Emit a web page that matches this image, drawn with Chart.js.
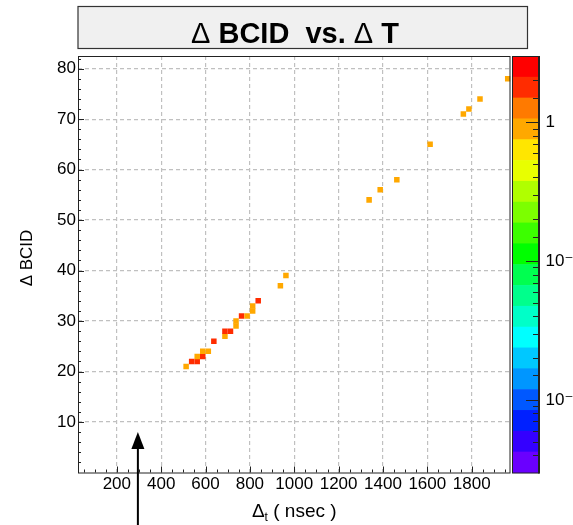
<!DOCTYPE html>
<html>
<head>
<meta charset="utf-8">
<script src="https://cdn.jsdelivr.net/npm/chart.js"></script>
<style>
  html, body { margin: 0; padding: 0; background: #fff; }
</style>
</head>
<body>
<canvas id="myChart" width="573" height="525"></canvas>
<script>
// filled cells of the 2D histogram (cell centres) and their entries
var deltaT    = [512.5, 537.5, 562.5, 562.5, 587.5, 587.5, 612.5, 637.5, 687.5, 687.5, 712.5, 737.5, 737.5, 762.5,
                 787.5, 812.5, 812.5, 837.5, 937.5, 962.5, 1337.5, 1387.5, 1462.5, 1612.5, 1762.5, 1787.5, 1837.5, 1962.5];
var deltaBCID = [21, 22, 22, 23, 23, 24, 24, 26, 27, 28, 28, 29, 30, 31,
                 31, 32, 33, 34, 37, 39, 54, 56, 58, 65, 71, 72, 74, 78];
var entries   = [1, 2, 2, 1, 2, 1, 1, 2, 1, 2, 2, 1, 1, 2,
                 1, 1, 1, 2, 1, 1, 1, 1, 1, 1, 1, 1, 1, 1];

// axis ticks
var xTickValues = [200, 400, 600, 800, 1000, 1200, 1400, 1600, 1800];
var xTickLabels = ['200', '400', '600', '800', '1000', '1200', '1400', '1600', '1800'];
var yTickValues = [10, 20, 30, 40, 50, 60, 70, 80];
var yTickLabels = ['10', '20', '30', '40', '50', '60', '70', '80'];
var zMajorValues = [0.01, 0.1, 1];
var zMajorLabels = ['10\u207B\u00B2', '10\u207B\u00B9', '1'];

// arrow marker under the x axis (in nsec)
var arrowAt = 295;

// colour palette of the z axis, top (max) to bottom (min)
var palette = ['#ff0000', '#ff2c00', '#ff7a00', '#ffa800', '#ffe600', '#e8ff00', '#b0ff00', '#7cff00',
               '#3cff00', '#00ff00', '#00ff50', '#00ff8c', '#00ffc8', '#00ffff', '#00c8ff', '#0096ff',
               '#0058ff', '#0020ff', '#3400ff', '#6a00ff'];

var FONT = "'Liberation Sans', Arial, Helvetica, 'DejaVu Sans', sans-serif";

function cellColour(v, z) {
  var pos = (z.getPixelForValue(v) - z.top) / (z.bottom - z.top);
  var i = Math.max(0, Math.min(palette.length - 1, Math.floor(pos * palette.length)));
  return palette[i];
}

var rootDecor = {
  id: 'rootDecor',
  afterDraw: function(chart) {
    var ctx = chart.ctx, a = chart.chartArea;
    var xs = chart.scales.x, ys = chart.scales.y, zs = chart.scales.z;
    ctx.save();

    // frame
    ctx.strokeStyle = '#222';
    ctx.lineWidth = 1;
    ctx.strokeRect(a.left + 0.5, a.top + 0.5, a.right - a.left - 1, a.bottom - a.top);

    // small ticks
    ctx.beginPath();
    for (var v = 50; v < xs.max; v += 50) {
      var px = Math.round(xs.getPixelForValue(v)) + 0.5;
      var len = v % 200 === 0 ? 6 : 3;
      ctx.moveTo(px, a.bottom); ctx.lineTo(px, a.bottom - len);
    }
    for (var w = 2; w < ys.max; w += 2) {
      var py = Math.round(ys.getPixelForValue(w)) + 0.5;
      var l2 = w % 10 === 0 ? 6 : 3;
      ctx.moveTo(a.left, py); ctx.lineTo(a.left + l2, py);
    }
    ctx.stroke();

    // colour bar
    var barL = a.right + 2, barR = 539, h = (zs.bottom - zs.top) / palette.length;
    for (var i = 0; i < palette.length; i++) {
      ctx.fillStyle = palette[i];
      ctx.fillRect(barL, zs.top + i * h, barR - barL, h + 0.6);
    }
    ctx.strokeStyle = '#222';
    ctx.beginPath();
    zs.ticks.forEach(function(t) {
      var y = Math.round(zs.getPixelForValue(t.value)) + 0.5;
      if (y < zs.top + 1 || y > zs.bottom - 1) return;
      var major = zMajorValues.some(function(m) { return Math.abs(m - t.value) < 1e-9; });
      ctx.moveTo(barR, y); ctx.lineTo(barR - (major ? 13 : 6), y);
    });
    ctx.stroke();
    ctx.lineWidth = 1;
    ctx.strokeRect(barL, zs.top + 0.5, barR - barL, zs.bottom - zs.top);
    ctx.lineWidth = 2;
    ctx.beginPath();
    ctx.moveTo(barR, zs.top); ctx.lineTo(barR, zs.bottom + 1);
    ctx.stroke();

    // title box
    ctx.fillStyle = '#f0f0f0';
    ctx.fillRect(78, 6.5, 449.5, 42);
    ctx.lineWidth = 1.2;
    ctx.strokeStyle = '#333';
    ctx.strokeRect(78, 6.5, 449.5, 42);
    var parts = [['\u0394 ', 'normal 29px '], ['BCID  vs. ', 'bold 29px '], ['\u0394 ', 'normal 29px '], ['T', 'bold 29px ']];
    var total = 0;
    parts.forEach(function(p) { ctx.font = p[1] + FONT; total += ctx.measureText(p[0]).width; });
    var tx = 295 - total / 2;
    ctx.fillStyle = '#000';
    ctx.textBaseline = 'alphabetic';
    ctx.textAlign = 'left';
    parts.forEach(function(p) { ctx.font = p[1] + FONT; ctx.fillText(p[0], tx, 43); tx += ctx.measureText(p[0]).width; });

    // axis titles
    ctx.font = '17px ' + FONT;
    ctx.save();
    ctx.translate(27, 258);
    ctx.rotate(-Math.PI / 2);
    ctx.textAlign = 'center';
    ctx.textBaseline = 'middle';
    ctx.fillText('\u0394 BCID', 0, 0);
    ctx.restore();

    var xt = [['\u0394', 19, 0], ['t', 12, 4], [' ( nsec )', 19, 0]];
    var tw = 0;
    xt.forEach(function(p) { ctx.font = p[1] + 'px ' + FONT; tw += ctx.measureText(p[0]).width; });
    var cx = (a.left + a.right) / 2 - tw / 2;
    xt.forEach(function(p) { ctx.font = p[1] + 'px ' + FONT; ctx.fillText(p[0], cx, 517 + p[2]); cx += ctx.measureText(p[0]).width; });

    // arrow
    var ax = xs.getPixelForValue(arrowAt), tip = ys.getPixelForValue(8);
    ctx.strokeStyle = '#000';
    ctx.fillStyle = '#000';
    ctx.lineWidth = 2;
    ctx.beginPath();
    ctx.moveTo(ax, chart.height); ctx.lineTo(ax, tip + 14);
    ctx.stroke();
    ctx.beginPath();
    ctx.moveTo(ax, tip); ctx.lineTo(ax - 6.5, tip + 17); ctx.lineTo(ax + 6.5, tip + 17); ctx.closePath();
    ctx.fill();

    ctx.restore();
  }
};

Chart.defaults.font.family = FONT;
Chart.defaults.color = '#000';

var ctx = document.getElementById('myChart').getContext('2d');
var chart = new Chart(ctx, {
  type: 'scatter',
  data: {
    datasets: [{
      data: deltaT.map(function(t, i) { return { x: t, y: deltaBCID[i], z: entries[i] }; }),
      pointStyle: 'rect',
      pointRadius: 3.9,
      pointHoverRadius: 3.9,
      borderWidth: 0,
      backgroundColor: function(c) { return c.raw ? cellColour(c.raw.z, c.chart.scales.z) : '#000'; }
    }]
  },
  options: {
    responsive: false,
    animation: false,
    layout: { padding: { top: 56, left: 0, right: 0, bottom: 0 } },
    plugins: { legend: { display: false }, tooltip: { enabled: false } },
    scales: {
      x: {
        type: 'linear', position: 'bottom', min: 25, max: 1975,
        afterBuildTicks: function(s) { s.ticks = xTickValues.map(function(v) { return { value: v }; }); },
        afterFit: function(s) { s.height = 52.5; },
        ticks: { font: { size: 17 }, padding: 2, maxRotation: 0, autoSkip: false,
                 callback: function(v, i) { return xTickLabels[i]; } },
        grid: { color: '#c0c0c0', lineWidth: 1.2, drawTicks: false },
        border: { display: false, dash: [4, 3] }
      },
      y: {
        type: 'linear', position: 'left', min: 0, max: 82.5,
        afterBuildTicks: function(s) { s.ticks = yTickValues.map(function(v) { return { value: v }; }); },
        afterFit: function(s) { s.width = 78; },
        ticks: { font: { size: 17 }, padding: 2, autoSkip: false,
                 callback: function(v, i) { return yTickLabels[i]; } },
        grid: { color: '#c0c0c0', lineWidth: 1.2, drawTicks: false },
        border: { display: false, dash: [4, 3] }
      },
      z: {
        type: 'logarithmic', position: 'right', min: 0.003, max: 3,
        afterFit: function(s) { s.width = 62.5; },
        ticks: { font: { size: 17 }, padding: 35, autoSkip: false,
                 callback: function(v) {
                   for (var k = 0; k < zMajorValues.length; k++) {
                     if (Math.abs(zMajorValues[k] - v) < 1e-9) return zMajorLabels[k];
                   }
                   return '';
                 } },
        grid: { display: false, drawTicks: false },
        border: { display: false }
      }
    }
  },
  plugins: [rootDecor]
});
</script>
</body>
</html>
